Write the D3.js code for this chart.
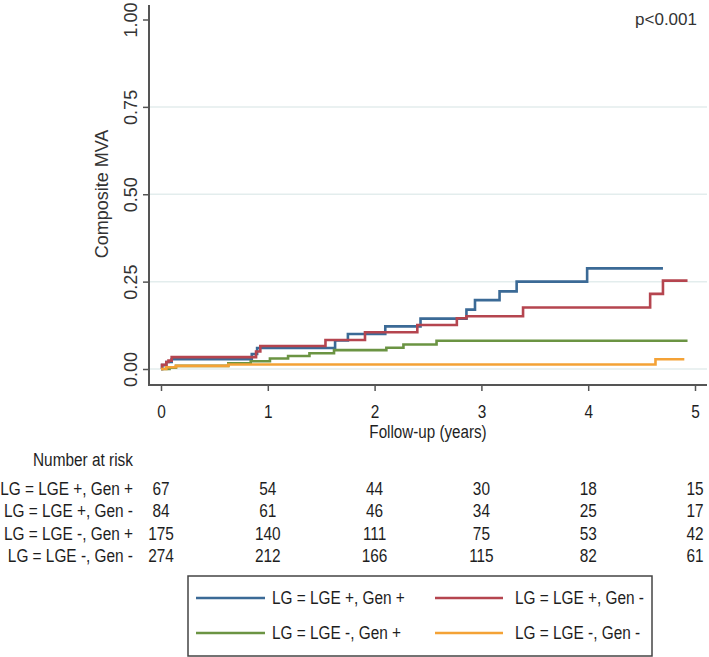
<!DOCTYPE html>
<html>
<head>
<meta charset="utf-8">
<script src="https://cdn.jsdelivr.net/npm/d3@7"></script>
<style>
  html, body { margin: 0; padding: 0; background: #fff; }
  svg { display: block; font-family: "Liberation Sans", Arial, sans-serif; }
</style>
</head>
<body>
<svg id="chart" width="709" height="657"></svg>
<script>
// ---- Data ----
const groups = ["LG = LGE +, Gen +", "LG = LGE +, Gen -", "LG = LGE -, Gen +", "LG = LGE -, Gen -"];
const colors = ["#3b6a96", "#b5454f", "#6b9443", "#f4a236"];

const timesBlue  = [0, 0.01, 0.05, 0.10, 0.85, 0.90, 1.63, 1.75, 2.10, 2.43, 2.86, 2.94, 3.17, 3.33, 3.99, 4.70];
const valuesBlue = [0, 0.011, 0.020, 0.028, 0.043, 0.060, 0.082, 0.100, 0.122, 0.144, 0.170, 0.197, 0.222, 0.250, 0.288, 0.288];

const timesRed  = [0, 0.01, 0.05, 0.07, 0.10, 0.89, 0.93, 1.54, 1.91, 2.40, 2.77, 2.86, 3.39, 4.58, 4.70, 4.93];
const valuesRed = [0, 0.012, 0.020, 0.024, 0.034, 0.050, 0.066, 0.083, 0.105, 0.126, 0.145, 0.151, 0.176, 0.215, 0.253, 0.253];

const timesGreen  = [0, 0.08, 0.14, 0.63, 0.84, 1.02, 1.19, 1.39, 1.62, 2.11, 2.27, 2.58, 4.93];
const valuesGreen = [0, 0.004, 0.009, 0.016, 0.022, 0.030, 0.037, 0.045, 0.054, 0.061, 0.070, 0.081, 0.081];

const timesOrange  = [0, 0.05, 0.14, 0.63, 4.63, 4.90];
const valuesOrange = [0, 0.005, 0.009, 0.013, 0.028, 0.028];

const xTicks = [0, 1, 2, 3, 4, 5];
const yTicks = [0, 0.25, 0.5, 0.75, 1];
const gridTicks = [0, 0.25, 0.5, 0.75];

const riskTimes = [0, 1, 2, 3, 4, 5];
const riskBlue   = [67, 54, 44, 30, 18, 15];
const riskRed    = [84, 61, 46, 34, 25, 17];
const riskGreen  = [175, 140, 111, 75, 53, 42];
const riskOrange = [274, 212, 166, 115, 82, 61];

const pText = "p<0.001";
const yLabel = "Composite MVA";
const xLabel = "Follow-up (years)";
const riskTitle = "Number at risk";

// ---- Build ----
const series = [
  { name: groups[0], color: colors[0], t: timesBlue,   v: valuesBlue,   risk: riskBlue },
  { name: groups[1], color: colors[1], t: timesRed,    v: valuesRed,    risk: riskRed },
  { name: groups[2], color: colors[2], t: timesGreen,  v: valuesGreen,  risk: riskGreen },
  { name: groups[3], color: colors[3], t: timesOrange, v: valuesOrange, risk: riskOrange }
];

const svg = d3.select("#chart");
const x = d3.scaleLinear().domain([0, 5]).range([161, 695]);
const y = d3.scaleLinear().domain([0, 1]).range([369, 19.5]);

const axisColor = "#555";
const textColor = "#1e1e1e";
const plotLeft = 149, plotRight = 707, plotTop = 5, plotBottom = 385;
const NS = 19, SX = 0.81;

// gridlines
svg.append("g").selectAll("line").data(gridTicks).join("line")
  .attr("x1", plotLeft + 1).attr("x2", plotRight)
  .attr("y1", d => y(d)).attr("y2", d => y(d))
  .attr("stroke", "#e3eded").attr("stroke-width", 1.5);

// narrow text helper
function ntext(g, str, px, py, anchor, size, sx) {
  return g.append("text")
    .attr("transform", `translate(${px},${py}) scale(${sx},1)`)
    .attr("text-anchor", anchor)
    .attr("font-size", size)
    .attr("fill", textColor)
    .text(str);
}

// y axis
const yAxis = svg.append("g").attr("transform", `translate(${plotLeft},0)`)
  .call(d3.axisLeft(y).tickValues(yTicks).tickFormat(d3.format(".2f")).tickSize(6).tickPadding(0));
yAxis.select(".domain").remove();
yAxis.selectAll(".tick line").attr("stroke", axisColor).attr("stroke-width", 1.5);
yAxis.selectAll(".tick text")
  .attr("font-size", 18).attr("font-family", "Liberation Sans, Arial, sans-serif")
  .attr("fill", "#333")
  .attr("x", null).attr("dy", null)
  .attr("text-anchor", "middle")
  .attr("transform", "translate(-12,0) rotate(-90)");
svg.append("line").attr("x1", plotLeft).attr("x2", plotLeft)
  .attr("y1", plotTop).attr("y2", plotBottom + 1)
  .attr("stroke", axisColor).attr("stroke-width", 2);

// x axis
const xAxis = svg.append("g").attr("transform", `translate(0,${plotBottom})`)
  .call(d3.axisBottom(x).tickValues(xTicks).tickFormat(d3.format("d")).tickSize(6).tickPadding(0));
xAxis.select(".domain").remove();
xAxis.selectAll(".tick line").attr("stroke", axisColor).attr("stroke-width", 1.5);
xAxis.selectAll(".tick text").remove();
xAxis.selectAll(".tick").each(function(d) {
  ntext(d3.select(this), d3.format("d")(d), 0, 33, "middle", NS, SX);
});
svg.append("line").attr("x1", plotLeft - 1).attr("x2", plotRight)
  .attr("y1", plotBottom).attr("y2", plotBottom)
  .attr("stroke", axisColor).attr("stroke-width", 2);

// axis titles
svg.append("text")
  .attr("transform", `translate(108,194) rotate(-90)`)
  .attr("text-anchor", "middle").attr("font-size", 18).attr("fill", "#333")
  .text(yLabel);
ntext(svg, xLabel, 428, 438, "middle", NS, 0.8);

// p value
svg.append("text").attr("x", 697).attr("y", 25).attr("text-anchor", "end")
  .attr("font-size", 17).attr("fill", "#333").text(pText);

// curves
const line = d3.line().curve(d3.curveStepAfter).x(d => x(d[0])).y(d => y(d[1]));
svg.append("g").selectAll("path").data(series).join("path")
  .attr("d", s => line(s.t.map((t, i) => [t, s.v[i]])))
  .attr("fill", "none").attr("stroke", d => d.color).attr("stroke-width", 2.6)
  .attr("stroke-linejoin", "miter");

// risk table
const risk = svg.append("g");
ntext(risk, riskTitle, 33, 466, "start", NS, SX);
const rowY = [495, 517, 540, 562];
series.forEach((s, i) => {
  ntext(risk, s.name, 133, rowY[i], "end", NS, SX);
  s.risk.forEach((n, j) => {
    ntext(risk, String(n), x(riskTimes[j]), rowY[i], "middle", NS, SX);
  });
});

// legend
const leg = svg.append("g");
leg.append("rect").attr("x", 188).attr("y", 576).attr("width", 464).attr("height", 80)
  .attr("fill", "#fff").attr("stroke", "#444").attr("stroke-width", 1.5);
const legPos = [
  { lx1: 196, lx2: 265, tx: 272, ly: 598, ty: 604 },
  { lx1: 435, lx2: 503, tx: 515, ly: 598, ty: 604 },
  { lx1: 196, lx2: 265, tx: 272, ly: 633, ty: 639 },
  { lx1: 435, lx2: 503, tx: 515, ly: 633, ty: 639 }
];
series.forEach((s, i) => {
  const p = legPos[i];
  leg.append("line").attr("x1", p.lx1).attr("x2", p.lx2).attr("y1", p.ly).attr("y2", p.ly)
    .attr("stroke", s.color).attr("stroke-width", 2.6);
  ntext(leg, s.name, p.tx, p.ty, "start", NS, SX);
});
</script>
</body>
</html>
